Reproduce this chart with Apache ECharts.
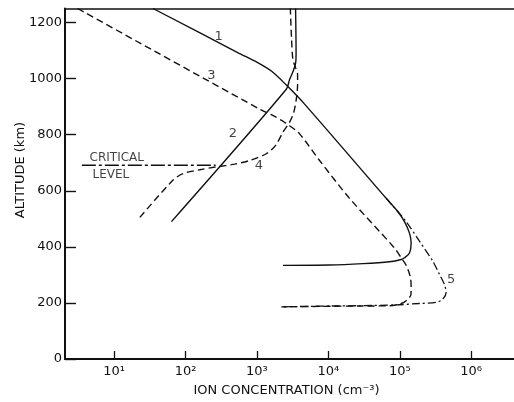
<!DOCTYPE html>
<html><head><meta charset="utf-8">
<script src="https://cdn.jsdelivr.net/npm/echarts@6/dist/echarts.min.js"></script>
<style>html,body{margin:0;padding:0;background:#fff}#c{width:514px;height:402px}</style>
</head><body><div id="c"></div>
<script>
// ---- data (ion concentration in cm^-3, altitude in km) ----
const xTickValues = [10, 100, 1000, 10000, 100000, 1000000];
const xTickLabels = ['10¹', '10²', '10³', '10⁴', '10⁵', '10⁶'];
const yTickLabels = ['0', '200', '400', '600', '800', '1000', '1200'];

const curve1Conc = [35, 537, 1023, 1607, 2602, 4645, 64565, 93800, 116400, 136800, 144300, 136800, 116400, 104700, 71800, 30400, 10380, 2311];
const curve1Alt  = [1250, 1093, 1057, 1026, 976, 909, 573, 526, 490, 449, 414, 378, 361, 355, 347, 340, 335, 334];

const curve2Conc = [63.5, 2578, 2866, 3207, 3475, 3532, 3475];
const curve2Alt  = [490, 962, 997, 1026, 1054, 1086, 1250];

const curve3Conc = [3.08, 1091, 1770, 2440, 2866, 3956, 7530, 19800, 84200, 104700, 124200, 141200, 144300, 143500, 124200, 104700, 71800, 27300, 10400, 2194];
const curve3Alt  = [1250, 891, 865, 844, 832, 803, 708, 573, 396, 361, 332, 290, 255, 230, 209, 198, 190, 189, 188, 186];

const curve4Conc = [22.9, 66.9, 92.2, 158, 270, 488, 791, 1353, 1827, 2311, 2866, 3258, 3556, 3707, 3707, 3422, 3186, 3055, 2933];
const curve4Alt  = [505, 638, 661, 675, 685, 695, 708, 732, 762, 809, 845, 877, 927, 980, 1015, 1043, 1068, 1139, 1250];

const curve5Conc = [64565, 93800, 123000, 188800, 289700, 359200, 421900, 445700, 399400, 322800, 188800, 89100, 27300, 10400, 2194];
const curve5Alt  = [573, 526, 490, 420, 349, 302, 266, 237, 213, 202, 198, 193, 190, 189, 186];

const criticalConc = [3.53, 264];
const criticalAlt  = [691, 691];

const curveLabels   = ['1', '3', '2', '4', '5'];
const curveLabelX   = [291, 230, 462, 1067, 523600];
const curveLabelAlt = [1150, 1011, 803, 691, 284];

const noteLabels   = ['CRITICAL', 'LEVEL'];
const noteLabelX   = [10.9, 9.0];
const noteLabelAlt = [718, 658];

// ---- build ----
const pairs = (xs, ys) => xs.map((v, i) => [v, ys[i]]);
const FONT = 'DejaVu Sans';
const INK = '#111';
const X_MIN = 2.05, X_MAX = 3.98e6;

function lineSeries(xs, ys, type, width) {
  return {
    type: 'line', xAxisIndex: 0, yAxisIndex: 0,
    data: pairs(xs, ys), showSymbol: false, symbol: 'none', smooth: 0.3,
    lineStyle: { color: INK, width: width || 1.4, type: type },
    silent: true, z: 3
  };
}

const chart = echarts.init(document.getElementById('c'), null, { renderer: 'canvas' });
chart.setOption({
  animation: false,
  backgroundColor: '#fff',
  grid: { left: 65, right: 0, top: 8.5, bottom: 40, containLabel: false },
  xAxis: [{
    type: 'log', logBase: 10, min: X_MIN, max: X_MAX,
    axisLine: { show: true, onZero: false, lineStyle: { color: INK, width: 2 } },
    axisTick: { show: true, inside: true, length: 8, customValues: xTickValues, lineStyle: { color: INK, width: 1.3 } },
    minorTick: { show: false },
    splitLine: { show: false },
    axisLabel: {
      color: INK, fontFamily: FONT, fontSize: 13, margin: 6, customValues: xTickValues,
      formatter: function (v) {
        const i = xTickValues.findIndex(t => Math.abs(Math.log10(t) - Math.log10(v)) < 1e-6);
        return i >= 0 ? xTickLabels[i] : '';
      }
    },
    name: 'ION CONCENTRATION (cm⁻³)', nameLocation: 'middle', nameGap: 25,
    nameTextStyle: { color: INK, fontFamily: FONT, fontSize: 13, padding: [0, 6, 0, 0] }
  }, {
    type: 'log', logBase: 10, min: X_MIN, max: X_MAX, position: 'top',
    axisLine: { show: true, onZero: false, lineStyle: { color: INK, width: 1.5 } },
    axisTick: { show: false }, axisLabel: { show: false }, splitLine: { show: false }
  }],
  yAxis: {
    type: 'value', min: 0, max: 1250, interval: 200,
    axisLine: { show: true, onZero: false, lineStyle: { color: INK, width: 2 } },
    axisTick: { show: true, inside: true, length: 11, lineStyle: { color: INK, width: 1.4 } },
    splitLine: { show: false },
    axisLabel: {
      color: INK, fontFamily: FONT, fontSize: 13, margin: 3, showMaxLabel: false,
      formatter: function (v) {
        const idx = Math.round(v / 200);
        return (Math.abs(v - idx * 200) < 1e-6 && yTickLabels[idx]) ? yTickLabels[idx] : '';
      }
    }
  },
  graphic: [{
    type: 'text', x: 21, y: 170, rotation: Math.PI / 2,
    style: { text: 'ALTITUDE (km)', fill: INK, font: '13px "DejaVu Sans"', textAlign: 'center', textVerticalAlign: 'middle' }
  }],
  series: [
    lineSeries(curve1Conc, curve1Alt, 'solid', 1.4),
    lineSeries(curve2Conc, curve2Alt, 'solid', 1.4),
    lineSeries(curve3Conc, curve3Alt, [7, 4], 1.4),
    lineSeries(curve4Conc, curve4Alt, [7, 4], 1.4),
    lineSeries(curve5Conc, curve5Alt, [8, 3, 2, 3], 1.3),
    Object.assign(lineSeries(criticalConc, criticalAlt, [14, 3, 3, 3], 1.3), { smooth: false }),
    {
      type: 'scatter', symbolSize: 1, itemStyle: { color: 'rgba(0,0,0,0)' }, silent: true,
      data: curveLabels.map((t, i) => ({ name: t, value: [curveLabelX[i], curveLabelAlt[i]] })),
      label: { show: true, position: 'inside', formatter: '{b}', color: INK, fontFamily: FONT, fontSize: 13 }
    },
    {
      type: 'scatter', symbolSize: 1, itemStyle: { color: 'rgba(0,0,0,0)' }, silent: true,
      data: noteLabels.map((t, i) => ({ name: t, value: [noteLabelX[i], noteLabelAlt[i]] })),
      label: { show: true, position: 'inside', formatter: '{b}', color: INK, fontFamily: FONT, fontSize: 12 }
    }
  ]
});
</script>
</body></html>
